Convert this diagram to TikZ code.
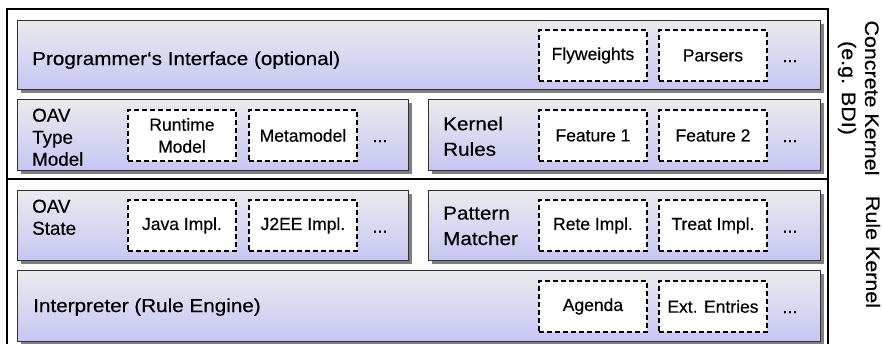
\documentclass[tikz,border=0pt]{standalone}
\usepackage{fontspec}
\setmainfont{Liberation Sans}[FakeBold=0.35]
\newfontfamily\widefont{Liberation Sans}[FakeStretch=1.1,FakeBold=0.35]
\usetikzlibrary{shadows}
\definecolor{boxtop}{RGB}{234,234,238}
\definecolor{boxbot}{RGB}{198,198,244}
\definecolor{boxline}{RGB}{50,50,50}
\definecolor{shadowc}{RGB}{128,128,128}
\tikzset{
  layer/.style={draw=boxline, line width=1.1pt, top color=boxtop, bottom color=boxbot,
    anchor=north west, inner sep=0pt,
    general shadow={fill=shadowc, shadow xshift=3.5pt, shadow yshift=-3.5pt}},
  impl/.style={draw=black, fill=white, dash pattern=on 5pt off 3pt, line width=1.9pt,
    minimum width=108pt, minimum height=51pt, inner sep=0pt, align=center,
    font=\fontsize{17.5}{22}\selectfont, anchor=north west},
  mainlbl/.style={inner sep=0pt, align=left, font=\widefont\fontsize{18.8}{25.5}\selectfont},
  oavlbl/.style={inner sep=0pt, align=left, font=\fontsize{18.8}{22}\selectfont},
  more/.style={inner sep=0pt, anchor=base, font=\fontsize{18}{20}\selectfont},
  side/.style={rotate=-90, inner sep=0pt, font=\widefont\fontsize{19.5}{24}\selectfont},
  frame/.style={draw=black, line width=1.6pt}
}
\begin{document}
\begin{tikzpicture}[x=1pt,y=-1pt]
\useasboundingbox (0,0) rectangle (882,343);
\begin{scope}
\clip (0,0) rectangle (882,343);
% frames
\draw[frame] (7,179) -- (7,9) -- (828,9) -- (828,179);
\draw[frame] (7,179) -- (828,179);
\draw[frame] (7,179) -- (7,350);
\draw[frame] (828,179) -- (828,350);
% layers
\node[layer, minimum width=803pt, minimum height=69pt] (pi) at (17,20) {};
\node[layer, minimum width=391pt, minimum height=71pt] (oavt) at (17,99) {};
\node[layer, minimum width=392pt, minimum height=71pt] (kr) at (428,99) {};
\node[layer, minimum width=391pt, minimum height=70pt] (oavs) at (17,190) {};
\node[layer, minimum width=392pt, minimum height=70pt] (pm) at (428,190) {};
\node[layer, minimum width=803pt, minimum height=71pt] (int) at (17,270) {};
\end{scope}
% layer labels
\node[mainlbl, anchor=base west] (pilbl) at (32,65) {Programmer‘s Interface (optional)};
\node[oavlbl, anchor=north west] (oavtlbl) at (32,108.4) {OAV\\Type\\Model};
\node[mainlbl, anchor=north west] (krlbl) at (443,116.4) {Kernel\\Rules};
\node[oavlbl, anchor=north west] (oavslbl) at (32,199.4) {OAV\\State};
\node[mainlbl, anchor=north west] (pmlbl) at (443,206.4) {Pattern\\Matcher};
\node[mainlbl, anchor=base west] (intlbl) at (33,312) {Interpreter (Rule Engine)};
% component boxes
\node[impl] (fly) at (538,29) {Flyweights};
\node[impl] (pars) at (658,29) {Parsers};
\node[impl] (rtm) at (127,109) {Runtime\\Model};
\node[impl] (meta) at (248,109) {Metamodel};
\node[impl] (f1) at (538,109) {Feature 1};
\node[impl] (f2) at (658,109) {Feature 2};
\node[impl] (java) at (127,199) {Java Impl.};
\node[impl] (j2ee) at (248,199) {J2EE Impl.};
\node[impl] (rete) at (538,199) {Rete Impl.};
\node[impl] (treat) at (658,199) {Treat Impl.};
\node[impl] (agenda) at (538,280) {Agenda};
\node[impl] (ext) at (658,280) {Ext. Entries};
% ellipses
\node[more] (m1) at (790,62) {...};
\node[more] (m2) at (380,142) {...};
\node[more] (m3) at (790,142) {...};
\node[more] (m4) at (380,232.5) {...};
\node[more] (m5) at (790,232.5) {...};
\node[more] (m6) at (790,313) {...};
% side labels
\node[side] (ck) at (872,98) {Concrete Kernel};
\node[side] (bdi) at (847,88) {(e.g. BDI)};
\node[side] (rk) at (873,252) {Rule Kernel};
\end{tikzpicture}
\end{document}
